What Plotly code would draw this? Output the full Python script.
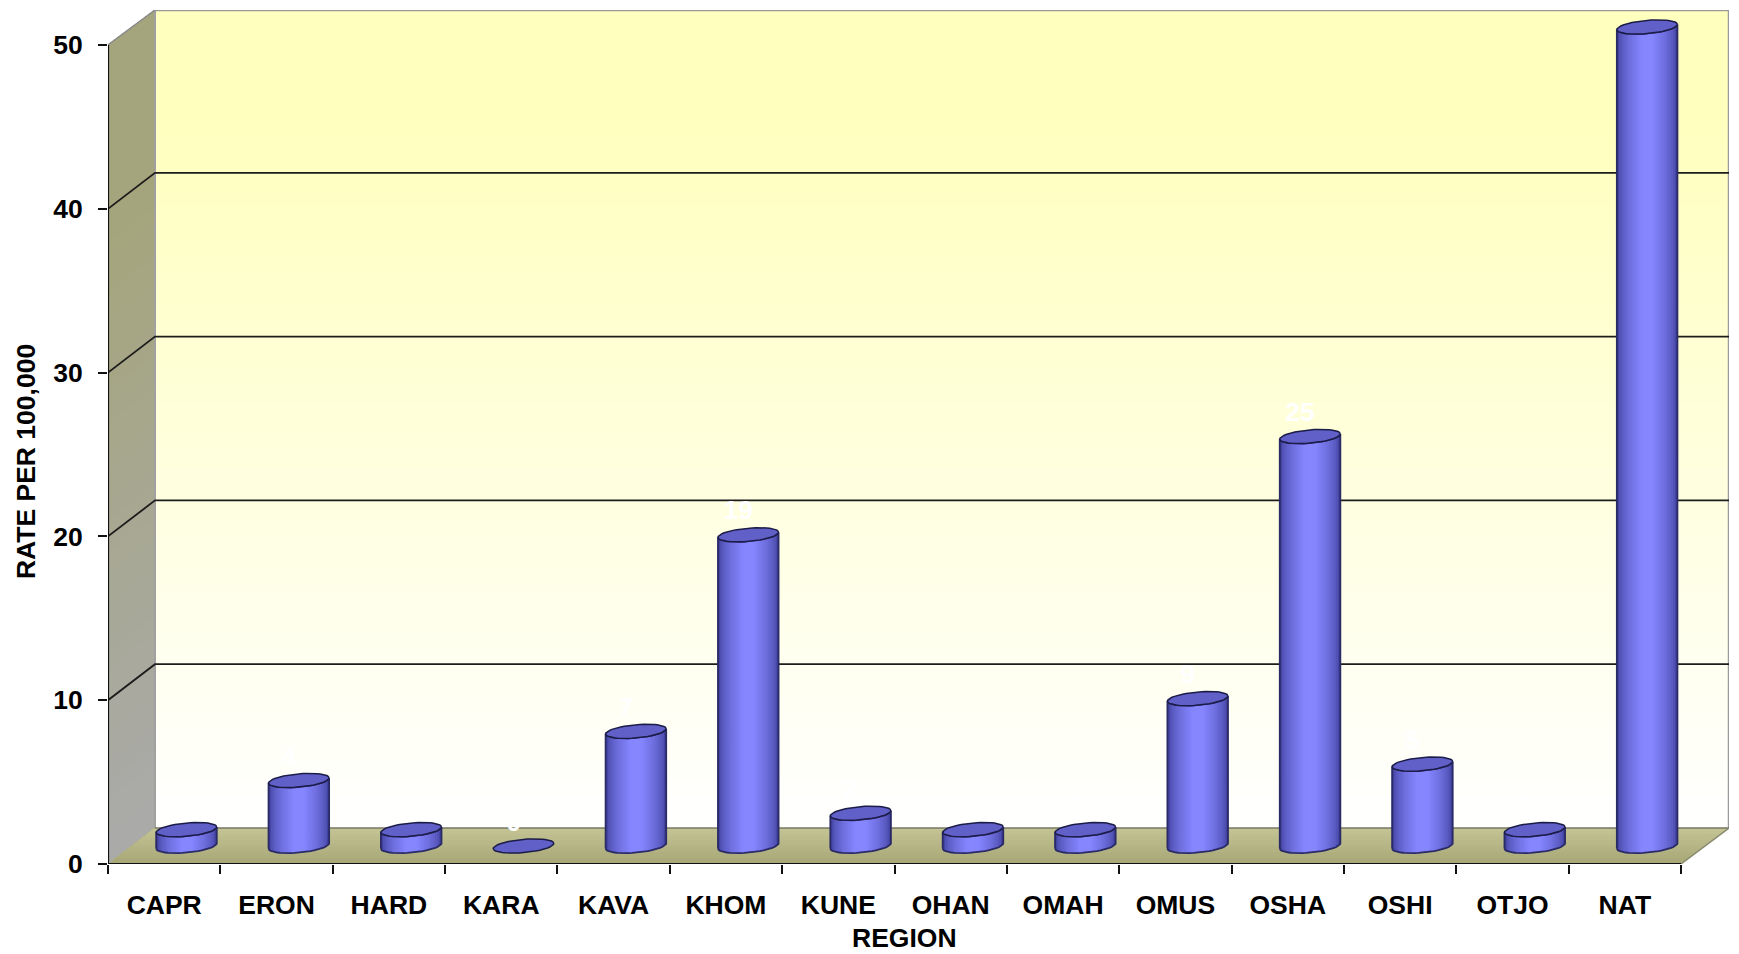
import numpy as np
import plotly.graph_objects as go

regions = ["CAPR","ERON","HARD","KARA","KAVA","KHOM","KUNE","OHAN","OMAH","OMUS","OSHA","OSHI","OTJO","NAT"]
rates = [1,4,1,0,7,19,2,1,1,9,25,5,1,70]
y_ticks = [0,10,20,30,40,50]
AXIS_MAX = 50

# page geometry (pixels)
W, H = 1739, 954
L, R, T, B = 107.5, 1729, 10, 864
Y50 = 45
DX, DY = 47, 36            # depth of the 3-D box
CAT_PX = (1681 - L) / 14
UNIT_PX = (B - Y50) / AXIS_MAX
x0 = -0.5
x1 = x0 + (R - L) / CAT_PX
y1 = (B - T) / UNIT_PX
dx_u, dy_u = DX / CAT_PX, DY / UNIT_PX

def px(p): return p / CAT_PX
def py(p): return p / UNIT_PX

def lerp(c1, c2, f):
    return "rgb(%d,%d,%d)" % tuple(round(a + (b - a) * f) for a, b in zip(c1, c2))

fig = go.Figure()
def poly(xs, ys, color):
    fig.add_trace(go.Scatter(x=xs, y=ys, mode="lines", fill="toself", fillcolor=color,
                             line=dict(width=0, color=color), hoverinfo="skip", showlegend=False))
def line(xs, ys, color, width):
    fig.add_trace(go.Scatter(x=xs, y=ys, mode="lines", line=dict(color=color, width=width),
                             hoverinfo="skip", showlegend=False))

# back wall + left wall gradient bands (each band runs up to the top, so no seams)
N = 50
edges = np.linspace(0, y1 - dy_u, N + 1)
wl_top, wl_bot = (165,165,125), (170,170,170)
bk_top, bk_bot = (255,255,190), (255,255,255)
top = edges[-1] + dy_u
for k in range(N):
    a = edges[k]
    f = (k + .5) / N
    poly([x0 + dx_u, x1, x1, x0 + dx_u, x0 + dx_u],
         [a + dy_u, a + dy_u, top, top, a + dy_u], lerp(bk_bot, bk_top, min(1, f * 1.15)))
    poly([x0, x0 + dx_u, x0 + dx_u, x0, x0],
         [a, a + dy_u, top, AXIS_MAX, a], lerp(wl_bot, wl_top, min(1, f * 1.3)))

# floor gradient (front to back)
M = 24
rx = x0 + 14
for k in range(M):
    a = dy_u * k / M
    sl = a / dy_u * dx_u
    poly([x0 + sl, rx + sl, rx + dx_u, x0 + dx_u, x0 + sl],
         [a, a, dy_u, dy_u, a], lerp((166,166,118), (196,196,148), (k + .5) / M))

# outlines of the box
line([x0 + dx_u, x1, x1], [y1, y1, dy_u], "#9a9a9a", 2.5)
line([x0 + dx_u, x0 + dx_u], [dy_u, y1], "#a0a0a0", 2)
line([x0, x0 + dx_u], [AXIS_MAX, y1], "#8a8a8a", 1.5)
line([x0 + dx_u, x1], [dy_u, dy_u], "#777766", 1.5)
line([x0 + 14, x1], [0, dy_u], "#8a8a70", 1.5)

# gridlines
for v in y_ticks[1:-1]:
    line([x0, x0 + dx_u, x1], [v, v + dy_u, v + dy_u], "#1c1c1c", 1.8)

# cylinders
a_px, b_px, tilt_px = 30.3, 6.6, 2.6
cx_off = px(22.3)
cy_off = py(18)
center, edge = np.array((134,134,255)), np.array((66,66,160))
tt = np.linspace(np.pi, 2 * np.pi, 25)

def ell(cx, cy, t):
    return cx + px(a_px * np.cos(t)), cy + py(b_px * np.sin(t) + tilt_px * np.cos(t))

S = 14
for s in range(S):
    frac = 1 - s / S                 # width fraction of this strip (outer to inner)
    d0 = np.arccos(frac)
    t = np.linspace(np.pi + d0, 2 * np.pi - d0, 17)
    xs, ys = [], []
    for i, v in enumerate(rates):
        h = min(v, AXIS_MAX)
        if h <= 0:
            continue
        cx, cy = i + cx_off, cy_off
        bx, by = ell(cx, cy, t)
        tx, ty = ell(cx, cy + h, t[::-1])
        xs += list(bx) + list(tx) + [bx[0], None]
        ys += list(by) + list(ty) + [by[0], None]
    c = edge + (center - edge) * min(1, (s / (S - 1)) ** 0.6 * 1.1)
    col = "rgb(%d,%d,%d)" % tuple(np.clip(c, 0, 255))
    fig.add_trace(go.Scatter(x=xs, y=ys, mode="lines", fill="toself", fillcolor=col,
                             line=dict(width=0, color=col), hoverinfo="skip", showlegend=False))

# outlines and top faces
tf = np.linspace(0, 2 * np.pi, 49)
sx, sy, fx_, fy_ = [], [], [], []
for i, v in enumerate(rates):
    h = min(v, AXIS_MAX)
    cx = i + cx_off
    ex, ey = ell(cx, cy_off + h, tf)
    fx_ += list(ex) + [None]
    fy_ += list(ey) + [None]
    if h > 0:
        bx, by = ell(cx, cy_off, tt)
        tx, ty = ell(cx, cy_off + h, tt[::-1])
        sx += list(bx) + list(tx) + [bx[0], None]
        sy += list(by) + list(ty) + [by[0], None]
fig.add_trace(go.Scatter(x=sx, y=sy, mode="lines", line=dict(color="#2a2a66", width=1.8),
                         hoverinfo="skip", showlegend=False))
fig.add_trace(go.Scatter(x=fx_, y=fy_, mode="lines", fill="toself", fillcolor="#6060c8",
                         line=dict(color="#1c1c48", width=1.5), hoverinfo="skip", showlegend=False))

# data labels
fig.add_trace(go.Scatter(
    x=[i + cx_off - px(10) for i in range(len(rates))],
    y=[min(v, AXIS_MAX) + cy_off + py(22) for v in rates],
    mode="text", text=[str(v) for v in rates], cliponaxis=False,
    textfont=dict(family="Liberation Sans", size=26.5, color="white", weight="bold"),
    textposition="middle center", showlegend=False, hoverinfo="skip"))

# front axis lines
line([x0, x0 + 14], [0, 0], "#111111", 2.2)
line([x0, x0], [0, AXIS_MAX], "#111111", 2.2)

font = dict(family="Liberation Sans", size=26.5, color="black", weight="bold")
paper_x = lambda p: (p - L) / (R - L)
paper_y = lambda p: (B - p) / (B - T)
fig.update_layout(
    width=W, height=H, autosize=False,
    margin=dict(l=L, r=W - R, t=T, b=H - B, pad=0),
    paper_bgcolor="white", plot_bgcolor="white", showlegend=False,
    xaxis=dict(range=[x0, x1], showgrid=False, zeroline=False, showline=False,
               tickmode="array", tickvals=list(range(len(regions))), ticktext=regions,
               ticks="", tickfont=font, ticklabelstandoff=22,
               minor=dict(tickmode="array", tickvals=[x0 + i for i in range(15)],
                          ticks="outside", ticklen=9, tickwidth=2, tickcolor="#111111", showgrid=False)),
    yaxis=dict(range=[0, y1], showgrid=False, zeroline=False, showline=False,
               tickmode="array", tickvals=y_ticks, ticktext=[str(v) for v in y_ticks],
               ticks="outside", ticklen=9, tickwidth=2, tickcolor="#111111",
               tickfont=font, ticklabelstandoff=10),
    annotations=[
        dict(text="REGION", xref="paper", yref="paper", x=paper_x(904), y=paper_y(938),
             showarrow=False, font=font, xanchor="center", yanchor="middle"),
        dict(text="RATE PER 100,000", xref="paper", yref="paper", x=paper_x(25.5), y=paper_y(462),
             textangle=-90, showarrow=False, font=font, xanchor="center", yanchor="middle"),
    ],
)
fig.write_html("out.html", config=dict(displayModeBar=False),
               post_script="document.body.style.margin='0';document.body.style.overflow='hidden';")
